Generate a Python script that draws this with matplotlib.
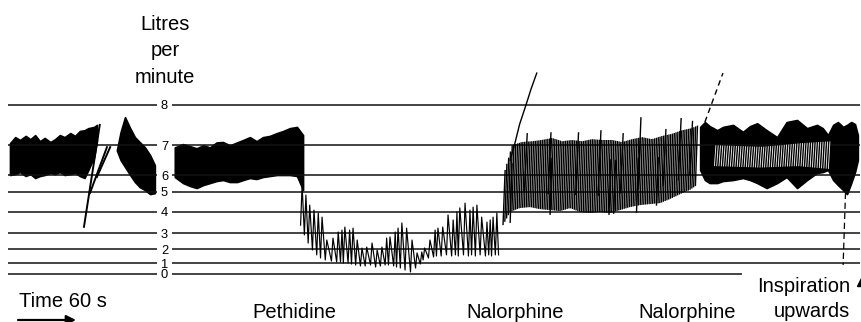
import numpy as np
import matplotlib.pyplot as plt
from matplotlib.collections import LineCollection

plt.rcParams['font.family'] = ['Liberation Sans', 'DejaVu Sans']

# recorder calibration: reading in litres/min -> pen height on the chart
cal_lpm = [-5, 0, 1, 2, 3, 4, 5, 6, 7, 8, 11]
cal_pos = [-53.5, 0, 10.7, 24.7, 40.7, 62.3, 82.3, 99, 128.7, 169.5, 291.9]
levels = [0, 1, 2, 3, 4, 5, 6, 7, 8]

# time in seconds, readings in litres/min
# control, first stretch (dense trace)
a_t = [10.5, 16, 21, 27, 32, 37, 42, 47, 53, 58, 63, 68, 74, 79, 84, 89, 93, 99, 102]
a_hi = [7.05, 7.2, 7.13, 7.23, 7.15, 7.25, 7.1, 7.18, 7.08, 7.15, 7.25, 7.2, 7.3, 7.23, 7.35,
        7.37, 7.42, 7.45, 7.5]
a_lo = [6.0, 6.03, 6.1, 5.94, 6.03, 5.82, 5.94, 6.0, 6.07, 6.03, 6.1, 6.0, 6.03, 6.07, 5.94,
        5.82, 6.17, 6.6, 7.1]

# control, blob after the pen reset
e_t = [123, 127, 131.6, 137, 142, 147, 152.6, 158, 163]
e_hi = [6.83, 7.33, 7.69, 7.42, 7.2, 7.08, 6.93, 6.67, 6.33]
e_lo = [6.83, 6.5, 6.27, 6.0, 5.58, 5.28, 5.1, 4.88, 4.93]

# control, second stretch
b_t = [184, 192.6, 200, 207, 214, 221, 228, 234.7, 242, 249.5, 256, 263, 270, 276.8, 284,
       291.6, 298, 305, 312.6, 319]
b_hi = [6.93, 7.03, 6.97, 6.9, 7.0, 6.93, 7.07, 7.08, 7.0, 7.07, 7.13, 7.2, 7.1, 7.2, 7.23,
        7.3, 7.35, 7.42, 7.45, 7.25]
b_lo = [5.88, 5.52, 5.34, 5.22, 5.4, 5.52, 5.64, 5.7, 5.58, 5.58, 5.7, 5.82, 5.76, 5.88, 5.94,
        6.0, 6.0, 6.0, 5.94, 5.1]

# pen reset strokes (start time, start reading, end time, end reading)
reset_strokes = [(88.4, 3.3, 105, 7.5), (94.7, 4.93, 112.6, 6.94), (102, 5.88, 116, 6.94)]

# after pethidine: one entry per breath
p_t = [318, 322, 326, 330.5, 335, 339, 344, 350.5, 356, 360, 363, 368, 371.6, 376, 381, 386,
       391.6, 397, 402, 407, 410.5, 416, 419, 423, 428, 433.7, 439, 444, 447, 452.6, 458, 461,
       466, 471.6, 477, 481, 484, 489.5, 494.7, 498, 502, 507, 512.6, 516, 519, 523]
p_peak = [5.4, 4.83, 4.33, 4.08, 3.94, 3.75, 2.58, 2.7, 3.06, 3.15, 3.29, 3.15, 3.24, 2.58,
          2.08, 2.14, 2.39, 1.95, 2.14, 2.7, 2.77, 3.06, 3.24, 3.48, 3.24, 2.58, 1.74, 1.81,
          2.08, 2.58, 3.15, 3.24, 3.29, 3.85, 3.62, 3.99, 4.19, 4.43, 4.08, 4.23, 4.33, 3.75,
          3.52, 3.62, 3.75, 3.94]
p_trough = [3.38, 2.9, 2.39, 1.95, 1.6, 1.38, 1.24, 1.16, 1.09, 1.09, 1.02, 1.02, 0.93, 0.84,
            0.75, 0.75, 0.84, 0.65, 0.75, 0.84, 0.84, 0.75, 0.65, 0.56, 0.37, 0.19, 0.56, 0.93,
            1.24, 1.38, 1.45, 1.52, 1.52, 1.6, 1.52, 1.6, 1.52, 1.6, 1.52, 1.6, 1.52, 1.6, 1.52,
            1.6, 1.52, 1.6]

# after first nalorphine: envelope of the breaths
c_t = [529.5, 537, 547, 558, 568, 579, 589.5, 600, 610.5, 621, 631.6, 642, 652.6, 663, 673.7,
       684, 695, 705, 716, 726, 733.7]
c_hi = [6.17, 7.0, 7.08, 7.1, 7.13, 7.18, 7.1, 7.13, 7.1, 7.15, 7.13, 7.13, 7.08, 7.15, 7.2,
        7.15, 7.23, 7.28, 7.37, 7.42, 7.5]
c_lo = [3.38, 3.99, 4.18, 4.23, 4.13, 4.08, 4.03, 4.18, 3.99, 3.94, 3.99, 3.94, 4.08, 4.23,
        4.33, 4.38, 4.43, 4.63, 4.88, 5.1, 5.4]
c_rate = 32  # breaths per minute
c_tall_t = [554, 579, 608, 631.6, 655, 673.7, 700, 716, 728]
c_tall = [7.3, 7.32, 7.32, 7.37, 7.3, 7.69, 7.4, 7.67, 7.6]
c_deep_t = [537, 579, 641, 646, 670, 691]
c_deep = [3.48, 3.85, 3.85, 3.9, 3.95, 4.3]
c_surge_t = [537, 542, 547, 553.7, 559, 565]
c_surge = [6.5, 7.05, 7.52, 7.99, 8.38, 8.77]

# after second nalorphine
d_t = [737, 742, 747, 755, 761, 771.6, 782, 789.5, 797, 807, 818, 828, 839, 849.5, 860, 866,
       871.6, 877, 882, 887.5, 891.6, 896, 900, 903]
d_hi = [7.45, 7.57, 7.47, 7.37, 7.45, 7.5, 7.33, 7.47, 7.54, 7.37, 7.2, 7.57, 7.62, 7.42,
        7.5, 7.42, 7.25, 7.5, 7.57, 7.45, 7.5, 7.57, 7.52, 7.25]
d_lo = [6.17, 5.7, 5.52, 5.52, 5.64, 5.7, 5.82, 5.7, 5.52, 5.22, 5.52, 5.88, 5.22, 5.7, 6.07,
        6.1, 6.17, 5.7, 5.4, 5.1, 4.88, 5.52, 6.1, 6.5]
d_light_t = [752, 800, 840, 874]
d_light_hi = [7.0, 6.95, 7.05, 7.1]
d_light_lo = [6.3, 6.25, 6.3, 6.2]
d_surge = (742, 7.57, 761, 8.77)
d_drop = (890, 4.95, 887.5, 0.84)


def fwd(v):
    return np.interp(v, cal_lpm, cal_pos)


def inv(p):
    return np.interp(p, cal_pos, cal_lpm)


W, H = 862, 322
fig = plt.figure(figsize=(W / 100, H / 100), dpi=100)
ax = fig.add_axes([0, 0, 1, 1])
ax.set_yscale('function', functions=(fwd, inv))
ax.set_xlim(0, W * 60 / 57)
ax.set_ylim(inv(-48), inv(274))
ax.axis('off')

# calibration lines with the figures set into them
ax.hlines(levels, 8.4, 165.3, color='#111111', lw=1.1)
ax.hlines(levels[1:], 181, 905, color='#111111', lw=1.1)
ax.hlines(0, 181, 781, color='#111111', lw=1.1)
for lv in levels:
    ax.text(173.2, lv, str(lv), ha='center', va='center_baseline', fontsize=9.3)

# dense stretches
for t, hi, lo in [(a_t, a_hi, a_lo), (e_t, e_hi, e_lo), (b_t, b_hi, b_lo), (d_t, d_hi, d_lo)]:
    ax.fill_between(t, lo, hi, color='black', lw=1.2, edgecolor='black')

for x0, y0, x1, y1 in reset_strokes:
    ax.plot([x0, x1], [y0, y1], color='black', lw=1.4)

# pethidine: zigzag breaths
zx, zy = [], []
for t, pk, tr in zip(p_t, p_peak, p_trough):
    zx += [t - 1.6, t]
    zy += [tr, pk]
zx.append(p_t[-1] + 1.8)
zy.append(p_trough[-1])
ax.plot(zx, zy, color='black', lw=0.85)

# nalorphine: slanted breath strokes
period = 60 / c_rate
bt = np.arange(c_t[0], c_t[-1], period)
segs = [[(t, np.interp(t, c_t, c_lo)), (t + 2.2, np.interp(t, c_t, c_hi))] for t in bt]
segs += [[(t - 2, np.interp(t, c_t, c_lo) + 0.8), (t + 1.0, v)] for t, v in zip(c_tall_t, c_tall)]
segs += [[(t, v), (t + 2.0, np.interp(t, c_t, c_hi) - 0.6)] for t, v in zip(c_deep_t, c_deep)]
ax.add_collection(LineCollection(segs, colors='black', linewidths=1.0))
ax.plot(c_surge_t, c_surge, color='black', lw=1.0)

# lighter patch in the last stretch
lt = np.arange(d_light_t[0], d_light_t[-1], 2.4)
wsegs = [[(t, np.interp(t, d_light_t, d_light_lo)), (t + 1.6, np.interp(t, d_light_t, d_light_hi))]
         for t in lt]
ax.add_collection(LineCollection(wsegs, colors='white', linewidths=0.6))

ax.plot([d_surge[0], d_surge[2]], [d_surge[1], d_surge[3]], color='black', lw=1.0,
        linestyle=(0, (4, 3)))
ax.plot([d_drop[0], d_drop[2]], [d_drop[1], d_drop[3]], color='black', lw=0.9,
        linestyle=(0, (5, 3)))


def fx(px):
    return px / W


def fy(py):
    return 1 - py / H


fs = 14.5
for s, py in [('Litres', 30), ('per', 56), ('minute', 83)]:
    fig.text(fx(165), fy(py), s, ha='center', va='baseline', fontsize=fs)
fig.text(fx(19), fy(307), 'Time 60 s', ha='left', va='baseline', fontsize=fs)
fig.text(fx(294), fy(318), 'Pethidine', ha='center', va='baseline', fontsize=fs)
fig.text(fx(515), fy(318), 'Nalorphine', ha='center', va='baseline', fontsize=fs)
fig.text(fx(687), fy(318), 'Nalorphine', ha='center', va='baseline', fontsize=fs)
fig.text(fx(850), fy(292), 'Inspiration', ha='right', va='baseline', fontsize=fs)
fig.text(fx(850), fy(317), 'upwards', ha='right', va='baseline', fontsize=fs)

ax.annotate('', xy=(fx(76), fy(320)), xytext=(fx(18), fy(320)), xycoords='figure fraction',
            textcoords='figure fraction',
            arrowprops=dict(arrowstyle='-|>', color='black', lw=1.6, mutation_scale=14,
                            shrinkA=0, shrinkB=0))
fig.lines.append(plt.Line2D([fx(863)], [fy(280)], marker='^', markersize=8, color='black',
                            transform=fig.transFigure))

fig.savefig('out.png', dpi=100)
